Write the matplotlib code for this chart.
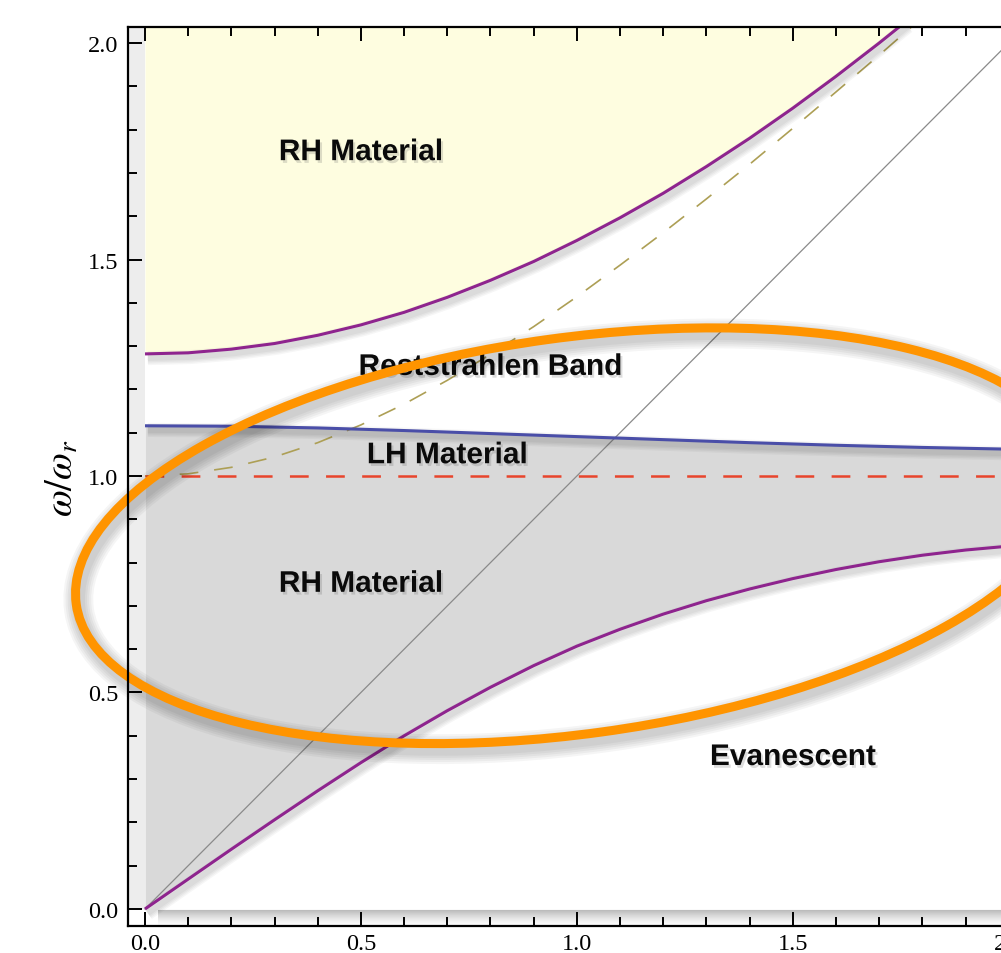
import numpy as np
import matplotlib
matplotlib.use("Agg")
import matplotlib.pyplot as plt
from matplotlib.patches import Ellipse
import matplotlib.patheffects as pe

plt.rcParams['mathtext.fontset'] = 'stix'
plt.rcParams['lines.scale_dashes'] = False

# ---- data ----
x_upper = [0.0, 0.1, 0.2, 0.3, 0.4, 0.5, 0.6, 0.7, 0.8, 0.9, 1.0, 1.1, 1.2, 1.3, 1.4, 1.5, 1.6, 1.7, 1.76]
y_upper = [1.282, 1.2845, 1.293, 1.306, 1.325, 1.349, 1.378, 1.4127, 1.452, 1.4954, 1.544, 1.5964,
           1.653, 1.7147, 1.780, 1.8495, 1.923, 2.000, 2.048]

x_blue = [0.0, 0.2, 0.4, 0.6, 0.8, 1.0, 1.2, 1.4, 1.6, 1.8, 2.0]
y_blue = [1.116, 1.115, 1.111, 1.105, 1.098, 1.091, 1.084, 1.077, 1.071, 1.066, 1.062]

x_lower = [0.0, 0.1, 0.2, 0.3, 0.4, 0.5, 0.6, 0.7, 0.8, 0.9, 1.0, 1.1, 1.2, 1.3, 1.4, 1.5, 1.6, 1.7, 1.8, 1.9, 2.0]
y_lower = [0.0, 0.069, 0.138, 0.206, 0.273, 0.338, 0.400, 0.458, 0.512, 0.562, 0.607, 0.646, 0.681,
           0.712, 0.739, 0.763, 0.784, 0.802, 0.817, 0.829, 0.838]

x_light = [0.0, 0.1, 0.2, 0.3, 0.4, 0.5, 0.6, 0.7, 0.8, 0.9, 1.0, 1.1, 1.2, 1.3, 1.4, 1.5, 1.6, 1.7, 1.8]
y_light = [1.0, 1.005, 1.020, 1.044, 1.077, 1.118, 1.166, 1.221, 1.281, 1.345, 1.414, 1.487, 1.562,
           1.640, 1.720, 1.803, 1.887, 1.972, 2.059]

x_diag = [0.0, 2.1]
y_diag = [0.0, 2.1]

resonance_level = 1.0

labels = ["RH Material", "Reststrahlen Band", "LH Material", "RH Material", "Evanescent"]
label_x = [0.50, 0.80, 0.70, 0.50, 1.50]
label_y = [1.748, 1.252, 1.048, 0.751, 0.351]

xticks = [0.0, 0.5, 1.0, 1.5, 2.0]
yticks = [0.0, 0.5, 1.0, 1.5, 2.0]
tick_labels = ["0.0", "0.5", "1.0", "1.5", "2.0"]

XMIN, XMAX = -0.0394, 2.04
YMIN, YMAX = -0.0393, 2.037

W, H = 1001, 954
fig = plt.figure(figsize=(W / 100, H / 100), dpi=100)
ax = fig.add_axes([128 / W, (H - 927) / H, (1026 - 128) / W, (927 - 28) / H])
ax.set_xlim(XMIN, XMAX)
ax.set_ylim(YMIN, YMAX)

# background shadow strips
ax.fill_between([XMIN, 0.0], 0.0, YMAX, color='#ededed', lw=0, zorder=0)
grad = np.linspace(0, 1, 50).reshape(-1, 1)
ax.imshow(grad, extent=[0.03, XMAX, YMIN, 0.0], origin='upper', cmap='Greys_r', vmin=-1.3, vmax=1.0,
          aspect='auto', zorder=0.5, interpolation='bicubic')

# filled regions
purple = '#8e248e'
blue = '#4a4ea8'
ax.fill_between(x_upper, y_upper, 2.2, color='#fefde0', lw=0, zorder=1)
ax.fill_between(x_blue, y_blue, 0, color='#d9d9d9', lw=0, zorder=1)
ax.fill_between(x_lower, y_lower, -0.001, color='white', lw=0, zorder=1.1)


def soft_shadow(lw, off=(2, -3), alpha=0.035, n=4, step=2.0):
    fx = [pe.SimpleLineShadow(offset=off, shadow_color='k', alpha=alpha, linewidth=lw + step * i)
          for i in range(n, 0, -1)]
    return fx + [pe.Normal()]


ax.plot(x_diag, y_diag, color='#8a8a8a', lw=0.9, zorder=3)
ax.plot(x_light, y_light, color='#ad9f55', lw=1.2, ls=(0, (13.5, 11.5)), zorder=3)
ax.axhline(resonance_level, xmin=(0 - XMIN) / (XMAX - XMIN), color='#e8452c', lw=1.8,
           ls=(0, (13.5, 12.5)), zorder=3)
ax.plot(x_upper, y_upper, color=purple, lw=2.2, zorder=4, path_effects=soft_shadow(2.2), solid_capstyle='butt')
ax.plot(x_blue, y_blue, color=blue, lw=2.2, zorder=4, path_effects=soft_shadow(2.2), solid_capstyle='butt')
ax.plot(x_lower, y_lower, color=purple, lw=2.2, zorder=4, path_effects=soft_shadow(2.2), solid_capstyle='butt')

txt_fx = [pe.SimplePatchShadow(offset=(1.5, -2), shadow_rgbFace='#555555', alpha=0.2), pe.Normal()]
for s, lx, ly in zip(labels, label_x, label_y):
    ax.text(lx, ly, s, ha='center', va='center', fontsize=21.5, fontweight='bold',
            family='Liberation Sans', color='#0a0a0a', zorder=5, path_effects=txt_fx)

# orange annotation ellipse
ell = Ellipse((0.995, 0.862), width=2.33, height=0.915, angle=7.8, fill=False,
              edgecolor='#ff9400', lw=6.5, zorder=6, clip_on=False,
              path_effects=soft_shadow(6.5, off=(2, -4), alpha=0.04, n=5, step=3.0))
ax.add_patch(ell)

# axes styling
for sp in ['left', 'bottom', 'top']:
    ax.spines[sp].set_linewidth(1.6)
    ax.spines[sp].set_zorder(10)
ax.spines['right'].set_visible(False)
ax.set_xticks(xticks)
ax.set_xticklabels(tick_labels)
ax.set_yticks(yticks)
ax.set_yticklabels(tick_labels)
ax.set_xticks(np.arange(0, 2.05, 0.1), minor=True)
ax.set_yticks(np.arange(0, 2.05, 0.1), minor=True)
ax.tick_params(which='both', direction='in', top=True, right=False, width=1.4)
ax.tick_params(which='major', length=10)
ax.tick_params(which='minor', length=6.5)
ax.tick_params(axis='x', pad=5)
ax.tick_params(axis='y', pad=7)
for lab in ax.get_xticklabels() + ax.get_yticklabels():
    lab.set_family('Liberation Serif')
    lab.set_fontsize(17.5)

fig.text(62 / W, 1 - 478 / H, r'$\omega/\omega_r$', rotation=90, ha='center', va='center', fontsize=28)

fig.savefig('out.png', dpi=100)
